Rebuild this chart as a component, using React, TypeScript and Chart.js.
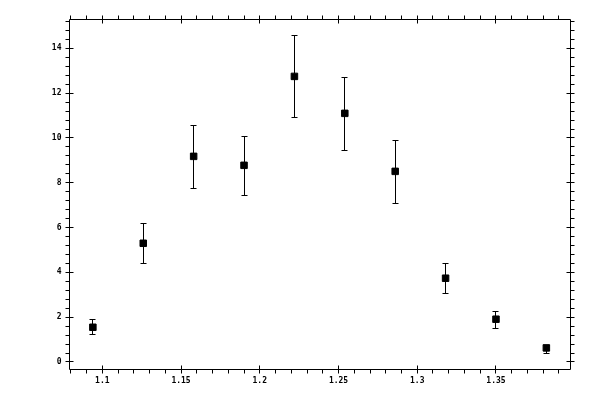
import { useEffect, useRef } from 'react';
import { Chart, registerables, Plugin } from 'chart.js';

Chart.register(...registerables);

// measured points (x position, value, error bar low/high)
const xValues = [1.094, 1.126, 1.158, 1.19, 1.222, 1.254, 1.286, 1.318, 1.35, 1.382];
const yValues = [1.55, 5.3, 9.18, 8.78, 12.75, 11.1, 8.51, 3.74, 1.91, 0.63];
const yLow = [1.24, 4.4, 7.75, 7.44, 10.92, 9.45, 7.08, 3.07, 1.5, 0.39];
const yHigh = [1.91, 6.22, 10.59, 10.08, 14.58, 12.74, 9.9, 4.41, 2.26, 0.77];

const xTicks = [1.1, 1.15, 1.2, 1.25, 1.3, 1.35];
const yTicks = [0, 2, 4, 6, 8, 10, 12, 14];
const xMinorStep = 0.01;
const yMinorStep = 0.4;

const X_MIN = 1.07916;
const X_MAX = 1.39733;
const Y_MIN = -0.335;
const Y_MAX = 15.29;

const crisp = (v: number) => Math.round(v - 0.5) + 0.5;

const errorBars: Plugin<'scatter'> = {
  id: 'errorBars',
  beforeDatasetsDraw(chart) {
    const { ctx, scales } = chart;
    const xs = scales.x;
    const ys = scales.y;
    ctx.save();
    ctx.strokeStyle = '#000';
    ctx.lineWidth = 1;
    ctx.beginPath();
    xValues.forEach((xv, i) => {
      const px = crisp(xs.getPixelForValue(xv));
      const top = Math.round(ys.getPixelForValue(yHigh[i])) + 0.5;
      const bot = Math.round(ys.getPixelForValue(yLow[i])) + 0.5;
      ctx.moveTo(px, top);
      ctx.lineTo(px, bot);
      ctx.moveTo(px - 3, top);
      ctx.lineTo(px + 3, top);
      ctx.moveTo(px - 3, bot);
      ctx.lineTo(px + 3, bot);
    });
    ctx.stroke();
    ctx.restore();
  },
};

const frame: Plugin<'scatter'> = {
  id: 'frame',
  afterDraw(chart) {
    const { ctx, chartArea, scales } = chart;
    const xs = scales.x;
    const ys = scales.y;
    const l = crisp(chartArea.left);
    const r = crisp(chartArea.right);
    const t = crisp(chartArea.top);
    const b = crisp(chartArea.bottom);
    ctx.save();
    ctx.strokeStyle = '#000';
    ctx.lineWidth = 1;
    ctx.beginPath();
    ctx.rect(l, t, r - l, b - t);

    // x ticks (bottom + top)
    const xStart = Math.ceil(X_MIN / xMinorStep);
    const xEnd = Math.floor(X_MAX / xMinorStep);
    for (let k = xStart; k <= xEnd; k++) {
      const v = k * xMinorStep;
      const px = crisp(xs.getPixelForValue(v));
      const major = xTicks.some((m) => Math.abs(m - v) < 1e-6);
      const inner = major ? 4 : 0;
      ctx.moveTo(px, b - inner);
      ctx.lineTo(px, b + 4);
      ctx.moveTo(px, t + inner);
      ctx.lineTo(px, t - 4);
    }

    // y ticks (left + right)
    const yStart = Math.ceil(Y_MIN / yMinorStep);
    const yEnd = Math.floor(Y_MAX / yMinorStep);
    for (let k = yStart; k <= yEnd; k++) {
      const v = k * yMinorStep;
      const py = crisp(ys.getPixelForValue(v));
      const major = yTicks.some((m) => Math.abs(m - v) < 1e-6);
      const inner = major ? 4 : 0;
      ctx.moveTo(l + inner, py);
      ctx.lineTo(l - 4, py);
      ctx.moveTo(r - inner, py);
      ctx.lineTo(r + 4, py);
    }
    ctx.stroke();
    ctx.restore();
  },
};

const tickFont = { family: '"DejaVu Sans Mono", monospace', size: 8, weight: 'bold' as const };

export default function App() {
  const canvasRef = useRef<HTMLCanvasElement | null>(null);

  useEffect(() => {
    document.body.style.margin = '0';
    if (!canvasRef.current) return;
    const chart = new Chart(canvasRef.current, {
      type: 'scatter',
      data: {
        datasets: [
          {
            data: xValues.map((x, i) => ({ x, y: yValues[i] })),
            pointStyle: 'rect',
            pointRadius: 4.6,
            backgroundColor: '#000',
            borderColor: '#000',
            borderWidth: 1,
          },
        ],
      },
      options: {
        animation: false,
        responsive: false,
        devicePixelRatio: 1,
        layout: { padding: { top: 19.5, right: 29.5, left: 0, bottom: 0 } },
        plugins: {
          legend: { display: false },
          tooltip: { enabled: false },
        },
        scales: {
          x: {
            type: 'linear',
            min: X_MIN,
            max: X_MAX,
            grid: { display: false, drawTicks: false },
            border: { display: false },
            afterBuildTicks: (s) => {
              s.ticks = xTicks.map((value) => ({ value }));
            },
            afterFit: (s) => {
              s.height = 30.5;
            },
            ticks: {
              autoSkip: false,
              maxRotation: 0,
              padding: 7,
              color: '#000',
              font: tickFont,
              callback: (v) => String(v),
            },
          },
          y: {
            type: 'linear',
            min: Y_MIN,
            max: Y_MAX,
            grid: { display: false, drawTicks: false },
            border: { display: false },
            afterBuildTicks: (s) => {
              s.ticks = yTicks.map((value) => ({ value }));
            },
            afterFit: (s) => {
              s.width = 69.5;
            },
            ticks: {
              autoSkip: false,
              padding: 8,
              color: '#000',
              font: tickFont,
              callback: (v) => String(v),
            },
          },
        },
      },
      plugins: [errorBars, frame],
    });
    return () => {
      chart.destroy();
    };
  }, []);

  return (
    <canvas
      ref={canvasRef}
      width={600}
      height={400}
      style={{ position: 'absolute', left: 0, top: 0, display: 'block' }}
    />
  );
}
